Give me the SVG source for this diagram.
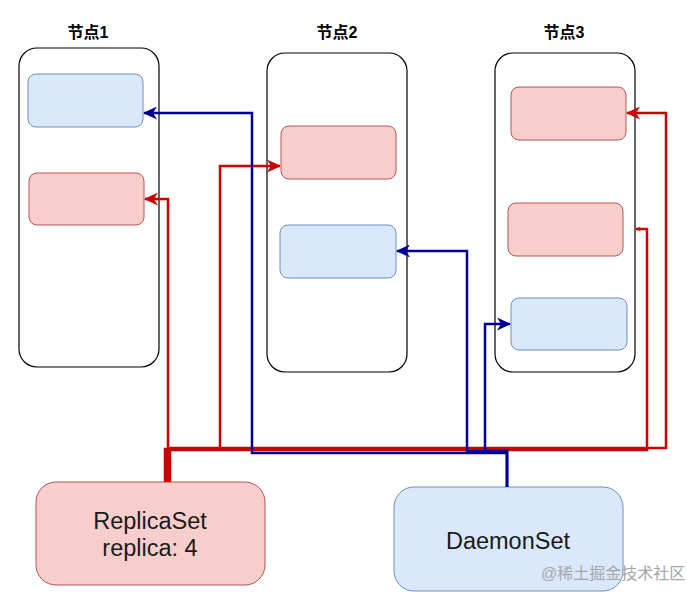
<svg xmlns="http://www.w3.org/2000/svg" width="687" height="598" viewBox="0 0 687 598">
<defs>
<style>
.container{fill:#ffffff;stroke:#000000;stroke-width:1.2}
.blue{fill:#dae8fc;stroke:#6c8ebf;stroke-width:1}
.red{fill:#f8cecc;stroke:#b85450;stroke-width:1}
.title{font-family:"Liberation Sans","Noto Sans CJK SC",sans-serif;font-size:16px;font-weight:bold;fill:#000;text-anchor:middle}
.label{font-family:"Liberation Sans",Arial,sans-serif;font-size:23.5px;fill:#1a1a1a;text-anchor:middle}
.er{fill:none;stroke:#cc0000;stroke-width:2.5}
.eb{fill:none;stroke:#000099;stroke-width:2.5}
.wm{font-family:"Liberation Sans","Noto Sans CJK SC",sans-serif;font-size:16px;fill:#a6a6a6}
</style>
<marker id="ar" viewBox="0 0 14 13" refX="13" refY="6.5" markerWidth="14" markerHeight="13" orient="auto" markerUnits="userSpaceOnUse">
<path d="M0,0 L14,6.5 L0,13 L4,6.5 Z" fill="#cc0000"/>
</marker>
<marker id="ab" viewBox="0 0 14 13" refX="13" refY="6.5" markerWidth="14" markerHeight="13" orient="auto" markerUnits="userSpaceOnUse">
<path d="M0,0 L14,6.5 L0,13 L4,6.5 Z" fill="#000099"/>
</marker>
<marker id="ars" viewBox="0 0 14 13" refX="13" refY="6.5" markerWidth="5" markerHeight="5" orient="auto" markerUnits="userSpaceOnUse">
<path d="M0,0 L14,6.5 L0,13 L4,6.5 Z" fill="#cc0000"/>
</marker>
</defs>

<g id="node1">
<text class="title" x="88" y="38">节点1</text>
<rect class="container" x="19" y="48" width="140" height="319" rx="18"/>
<rect id="node1-pod-blue" class="blue" x="28" y="74" width="115" height="53" rx="8"/>
<rect id="node1-pod-red" class="red" x="29" y="173" width="115" height="52" rx="8"/>
</g>

<g id="node2">
<text class="title" x="337" y="38">节点2</text>
<rect class="container" x="267" y="53" width="140" height="319" rx="18"/>
<rect id="node2-pod-red" class="red" x="281" y="126" width="115" height="53" rx="8"/>
<rect id="node2-pod-blue" class="blue" x="280" y="225" width="116" height="53" rx="8"/>
</g>

<g id="node3">
<text class="title" x="564" y="38">节点3</text>
<rect class="container" x="495" y="53" width="140" height="319" rx="18"/>
<rect id="node3-pod-red1" class="red" x="511" y="87" width="115" height="53" rx="8"/>
<rect id="node3-pod-red2" class="red" x="508" y="203" width="115" height="53" rx="8"/>
<rect id="node3-pod-blue" class="blue" x="511" y="298" width="116" height="52" rx="8"/>
</g>

<g id="replicaset">
<rect class="red" x="36" y="482" width="229" height="103" rx="20"/>
<text class="label" x="150" y="529">ReplicaSet</text>
<text class="label" x="150" y="556">replica: 4</text>
</g>

<g id="daemonset">
<rect class="blue" x="394" y="487" width="229" height="104" rx="20"/>
<text class="label" x="508" y="549">DaemonSet</text>
</g>

<g id="connectors">
<path class="er" d="M168,482 L168,199 L145,199" marker-end="url(#ar)"/>
<path class="er" d="M165,482 L165,449 L220,449 L220,166 L280,166" marker-end="url(#ar)"/>
<path class="er" d="M170,482 L170,448 L666,448 L666,113 L627,113" marker-end="url(#ar)"/>
<path class="er" d="M167,482 L167,450 L647,450 L647,229 L636,229" marker-end="url(#ars)"/>
<path class="eb" d="M507,487 L507,453 L252,453 L252,113 L144,113" marker-end="url(#ab)"/>
<path class="eb" d="M507,487 L507,451 L467,451 L467,251 L397,251" marker-end="url(#ab)"/>
<path class="eb" d="M507,487 L507,451 L485,451 L485,324 L510,324" marker-end="url(#ab)"/>
</g>

<text class="wm" x="541" y="579">@稀土掘金技术社区</text>
</svg>
